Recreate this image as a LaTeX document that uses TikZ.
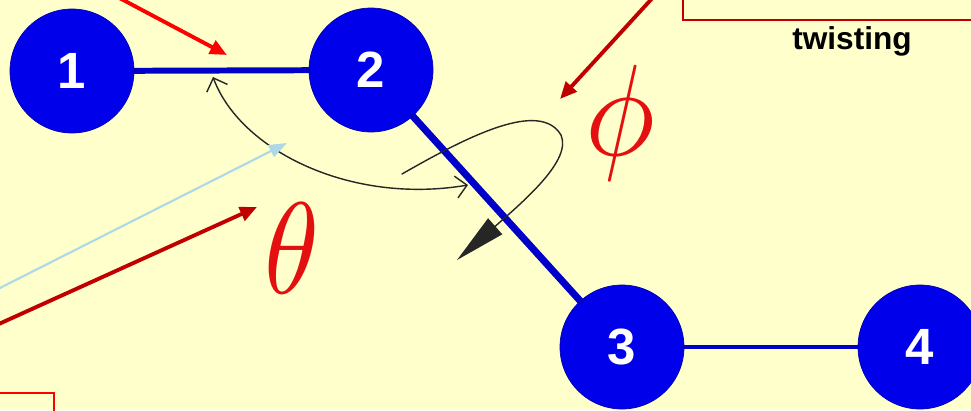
\documentclass[tikz,border=0pt]{standalone}
\usepackage{fontspec}
\setsansfont{Liberation Sans}
\usetikzlibrary{arrows.meta}
\definecolor{paper}{RGB}{255,255,204}
\definecolor{atomblue}{RGB}{0,0,235}
\definecolor{darkred}{RGB}{192,0,0}
\definecolor{pointerblue}{RGB}{173,216,230}
\definecolor{greekred}{RGB}{228,16,16}

\begin{document}
\begin{tikzpicture}[x=0.02cm,y=-0.02cm,line cap=round,
  atom/.style={circle,fill=atomblue,draw=atomblue!75!black,line width=0.4pt,
    minimum size=2.48cm,inner sep=0pt,text=white,
    font=\sffamily\bfseries\fontsize{29}{30}\selectfont},
  bond/.style={atomblue!85!black,line width=3.4pt},
  pointer/.style={-{Triangle[length=3.4mm,width=2.9mm]},line width=2.2pt},
  greek/.style={text=greekred,inner sep=0pt},
  turn/.style={black!85,line width=0.8pt}]
\useasboundingbox (0,0) rectangle (971,410);
\fill[paper] (0,0) rectangle (971,410);
\clip (0,0) rectangle (971,410);

% chain of four atoms
\node[atom] (a1) at (72,71) {1};
\node[atom] (a2) at (371,70) {2};
\node[atom] (a3) at (622,347) {3};
\node[atom] (a4) at (920,347) {4};
\draw[bond] (a1) -- (a2);
\draw[bond,line width=4pt] (a2) -- (a3);
\draw[bond,line width=2.8pt] (a3) -- (a4);

% angles
\node[greek,scale=7.4,xscale=0.85] (theta) at (292,248) {$\theta$};
\node[greek,scale=7.4,xscale=0.9] (phi) at (620,123) {$\phi$};
\coordinate (bendA) at (213,77);
\coordinate (bendB) at (468,185);
\draw[turn,{Straight Barb[length=2.2mm]}-{Straight Barb[length=2.2mm]}]
  (bendA) .. controls (240,150) and (350,205) .. (bendB);
\coordinate (twistA) at (402,174);
\coordinate (twistB) at (457,260);
\draw[turn,-{Triangle[length=29pt,width=12pt]}]
  (twistA) .. controls (470,135) and (540,100) .. (561,135)
  .. controls (572,160) and (525,200) .. (twistB);

% label boxes and pointers
\draw[darkred,line width=0.9pt] (683,-5) rectangle (980,20);
\draw[red,line width=0.9pt] (-5,393) rectangle (54,420);
\node[font=\sffamily\bfseries\fontsize{18}{20}\selectfont] (twist) at (852,41) {twisting};
\coordinate (fromA) at (110,-7);
\coordinate (toA) at (227,55);
\coordinate (fromB) at (657,-7);
\coordinate (toB) at (560,99);
\coordinate (fromC) at (-10,328);
\coordinate (toC) at (257,207);
\coordinate (fromD) at (-10,293);
\coordinate (toD) at (287,143);
\draw[pointer,red] (fromA) -- (toA);
\draw[pointer,darkred] (fromB) -- (toB);
\draw[pointer,darkred] (fromC) -- (toC);
\draw[pointerblue,line width=1.2pt,-{Triangle[length=3.6mm,width=2.6mm]}] (fromD) -- (toD);
\end{tikzpicture}
\end{document}
